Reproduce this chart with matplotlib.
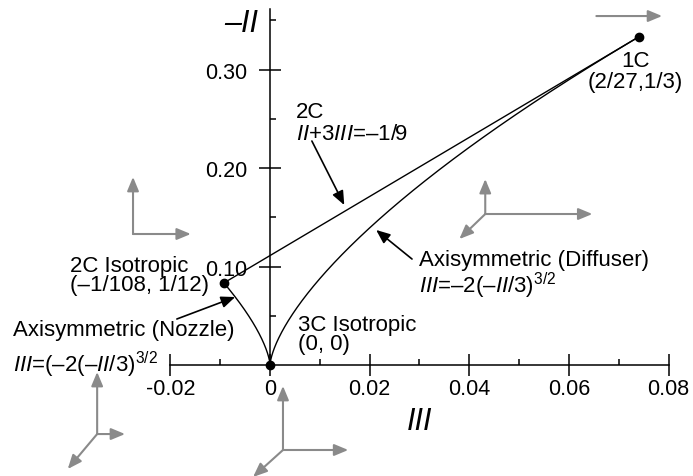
import numpy as np
import matplotlib
matplotlib.use("Agg")
import matplotlib.pyplot as plt
from matplotlib.ticker import FixedLocator

plt.rcParams["font.family"] = ["Liberation Sans", "DejaVu Sans"]
plt.rcParams["mathtext.fontset"] = "custom"
plt.rcParams["mathtext.rm"] = "Liberation Sans"
plt.rcParams["mathtext.it"] = "Liberation Sans:italic"

# limiting states of the invariant map: (III, -II)
state_III = [0.0, -1 / 108, 2 / 27]      # 3C iso, 2C iso, 1C
state_negII = [0.0, 1 / 12, 1 / 3]

# axisymmetric branches end at 1C (diffuser) and 2C iso (nozzle)
diffuser_top = 1 / 3
nozzle_top = 1 / 12

x_major = [-0.02, 0.0, 0.02, 0.04, 0.06, 0.08]
x_major_labels = ["-0.02", "0", "0.02", "0.04", "0.06", "0.08"]
x_minor = [-0.01, 0.01, 0.03, 0.05, 0.07]
y_major = [0.10, 0.20, 0.30]
y_major_labels = ["0.10", "0.20", "0.30"]
y_minor = [0.05, 0.15, 0.25, 0.35]

GRAY = "#8a8a8a"

fig = plt.figure(figsize=(6.93, 4.77), dpi=100)
ax = fig.add_axes([0, 0, 1, 1])
ax.set_xlim(-0.0542, 0.0849)
ax.set_ylim(-0.1127, 0.3716)

# --- boundaries ---
t = np.linspace(0, 1, 400)
y_d = diffuser_top * t
ax.plot(2 * (y_d / 3) ** 1.5, y_d, color="black", lw=1.0)
y_n = nozzle_top * t
ax.plot(-2 * (y_n / 3) ** 1.5, y_n, color="black", lw=1.0)
ax.plot(state_III[1:], state_negII[1:], color="black", lw=1.0)
ax.plot(state_III, state_negII, "o", color="black", ms=6, clip_on=False, zorder=5)

# --- spines through the origin ---
for side in ("top", "right"):
    ax.spines[side].set_visible(False)
ax.spines["left"].set_position(("data", 0))
ax.spines["bottom"].set_position(("data", 0))
ax.spines["left"].set_bounds(0, 0.361)
ax.spines["bottom"].set_bounds(-0.02, 0.08)
for side in ("left", "bottom"):
    ax.spines[side].set_linewidth(1.1)

ax.xaxis.set_major_locator(FixedLocator(x_major))
ax.set_xticklabels(x_major_labels)
ax.xaxis.set_minor_locator(FixedLocator(x_minor))
ax.yaxis.set_major_locator(FixedLocator(y_major))
ax.set_yticklabels(y_major_labels)
ax.yaxis.set_minor_locator(FixedLocator(y_minor))
ax.tick_params(which="major", direction="inout", length=16, width=1.1, labelsize=15.5)
ax.tick_params(axis="x", which="major", pad=1.5)
ax.tick_params(axis="y", which="major", pad=8.5)
ax.tick_params(which="minor", direction="in", length=4.3, width=1.1)

# axis titles
ax.text(-0.0024, 0.339, "–II", style="italic", fontsize=22, ha="right", va="baseline")
ax.text(0.0301, -0.065, "III", style="italic", fontsize=22, ha="center", va="baseline")

# --- labels ---
fs = 16
ax.text(0.0052, 0.2518, "2C", fontsize=fs)
ax.text(0.0052, 0.2294, r"$\mathit{II}$+3$\mathit{III}$=–1/9", fontsize=fs)
ax.text(0.0733, 0.3036, "1C", fontsize=fs, ha="center")
ax.text(0.0733, 0.2822, "(2/27,1/3)", fontsize=fs, ha="center")
ax.text(0.0299, 0.1015, "Axisymmetric (Diffuser)", fontsize=fs)
ax.text(0.0299, 0.0741, r"$\mathit{III}$=–2(–$\mathit{II}$/3)$^{3/2}$", fontsize=fs)
# multiline baseline sits on the last line
ax.text(0.0056, 0.0162, "3C Isotropic\n(0, 0)", fontsize=fs, va="baseline",
        linespacing=0.9)
ax.text(-0.0402, 0.0954, "2C Isotropic", fontsize=fs)
ax.text(-0.0402, 0.0761, "(–1/108, 1/12)", fontsize=fs)
ax.text(-0.0516, 0.0305, "Axisymmetric (Nozzle)", fontsize=fs)
ax.text(-0.0516, -0.0061, r"$\mathit{III}$=(–2(–$\mathit{II}$/3)$^{3/2}$", fontsize=fs)

head = "-|>,head_length=0.6,head_width=0.25"


def arrow(tail, tip, color):
    ax.annotate("", xy=tip, xytext=tail, annotation_clip=False,
                arrowprops=dict(arrowstyle=head, mutation_scale=14, color=color,
                                lw=1.2 if color == "black" else 1.5,
                                shrinkA=0, shrinkB=0))


# pointers to the boundaries
arrow((0.0084, 0.2274), (0.0149, 0.1624), "black")
arrow((0.0285, 0.1076), (0.0213, 0.1371), "black")
arrow((-0.0187, 0.0467), (-0.0070, 0.0690), "black")

# component sketches: corner, vertical tip, horizontal tip, diagonal tip
sketches = [
    ((-0.0275, 0.1330), 0.1909, -0.0159, None),
    ((0.0432, 0.1533), 0.1888, 0.0647, (0.0380, 0.1279)),
    ((-0.0347, -0.0701), -0.0071, -0.0291, (-0.0406, -0.1056)),
    ((0.0026, -0.0863), -0.0213, 0.0157, (-0.0034, -0.1137)),
]
for (cx, cy), vtip, htip, dtip in sketches:
    arrow((cx, cy), (cx, vtip), GRAY)
    arrow((cx, cy), (htip, cy), GRAY)
    if dtip is not None:
        arrow((cx, cy), dtip, GRAY)
arrow((0.0655, 0.3543), (0.0787, 0.3543), GRAY)

fig.savefig("out.png", dpi=100)
